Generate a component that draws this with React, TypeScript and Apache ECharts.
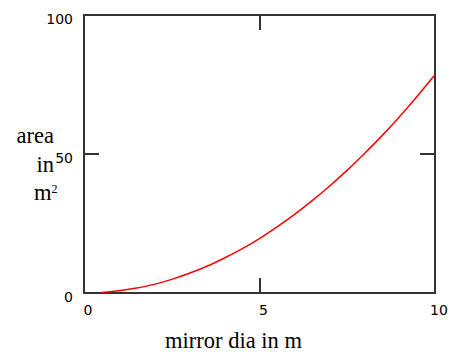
import React, { useEffect, useRef } from "react";
import * as echarts from "echarts";

const diameters = [0.5, 1, 1.5, 2, 2.5, 3, 3.5, 4, 4.5, 5, 5.5, 6, 6.5, 7, 7.5, 8, 8.5, 9, 9.5, 10];
const areas = [0.2, 0.8, 1.8, 3.1, 4.9, 7.1, 9.6, 12.6, 15.9, 19.6, 23.8, 28.3, 33.2, 38.5, 44.2, 50.3, 56.7, 63.6, 70.9, 78.5];
const xTitle = "mirror dia in m";
const yTitleLines = ["area", "in", "m"];
const ySup = "2";

const axisColor = "#333";
const labelFont = "DejaVu Sans";
const serif = "Liberation Serif";

export default function App() {
  const ref = useRef<HTMLDivElement>(null);
  useEffect(() => {
    const chart = echarts.init(ref.current!, null, { renderer: "svg" });
    const axisLine = { show: true, onZero: false, lineStyle: { color: axisColor, width: 2 } };
    const tick = { show: true, inside: true, length: 15, lineStyle: { color: axisColor, width: 2 } };
    const titleFont = `22.5px "${serif}"`;
    chart.setOption({
      animation: false,
      grid: { left: 84, top: 15, right: 17, bottom: 59, containLabel: false },
      xAxis: [
        {
          type: "value", min: 0, max: 10, interval: 5, position: "bottom",
          axisLine, axisTick: tick, splitLine: { show: false },
          axisLabel: {
            margin: 10, color: "#000", fontFamily: labelFont, fontSize: 14,
            formatter: (v: number) => `{a|${v}}`,
            rich: { a: { padding: [0, 0, 0, 8], fontFamily: labelFont, fontSize: 14, color: "#000" } },
          },
        },
        {
          type: "value", min: 0, max: 10, interval: 5, position: "top",
          axisLine, axisTick: tick, splitLine: { show: false }, axisLabel: { show: false },
        },
      ],
      yAxis: [
        {
          type: "value", min: 0, max: 100, interval: 50, position: "left",
          axisLine, axisTick: tick, splitLine: { show: false },
          axisLabel: {
            margin: 11, color: "#000", fontFamily: labelFont, fontSize: 14,
            formatter: (v: number) => `{a|${v}}`,
            rich: { a: { padding: [8, 0, 0, 0], fontFamily: labelFont, fontSize: 14, color: "#000" } },
          },
        },
        {
          type: "value", min: 0, max: 100, interval: 50, position: "right",
          axisLine, axisTick: tick, splitLine: { show: false }, axisLabel: { show: false },
        },
      ],
      series: [
        {
          type: "line",
          data: diameters.map((d, i) => [d, areas[i]]),
          showSymbol: false,
          smooth: 0.3,
          lineStyle: { color: "#ff0000", width: 1.5 },
          z: 1,
        },
      ],
      graphic: [
        { type: "text", x: 233.5, y: 340, style: { text: xTitle, font: titleFont, fill: "#000", textAlign: "center", textVerticalAlign: "middle" } },
        { type: "text", x: 54, y: 135, style: { text: yTitleLines[0], font: titleFont, fill: "#000", textAlign: "right", textVerticalAlign: "middle" } },
        { type: "text", x: 54, y: 164, style: { text: yTitleLines[1], font: titleFont, fill: "#000", textAlign: "right", textVerticalAlign: "middle" } },
        { type: "text", x: 51.5, y: 192, style: { text: yTitleLines[2], font: titleFont, fill: "#000", textAlign: "right", textVerticalAlign: "middle" } },
        { type: "text", x: 51.5, y: 189, style: { text: ySup, font: `12px "${serif}"`, fill: "#000", textAlign: "left", textVerticalAlign: "middle" } },
      ],
    });
    return () => chart.dispose();
  }, []);
  return <div ref={ref} style={{ position: "fixed", left: 0, top: 0, width: 452, height: 352, background: "#fff" }} />;
}
